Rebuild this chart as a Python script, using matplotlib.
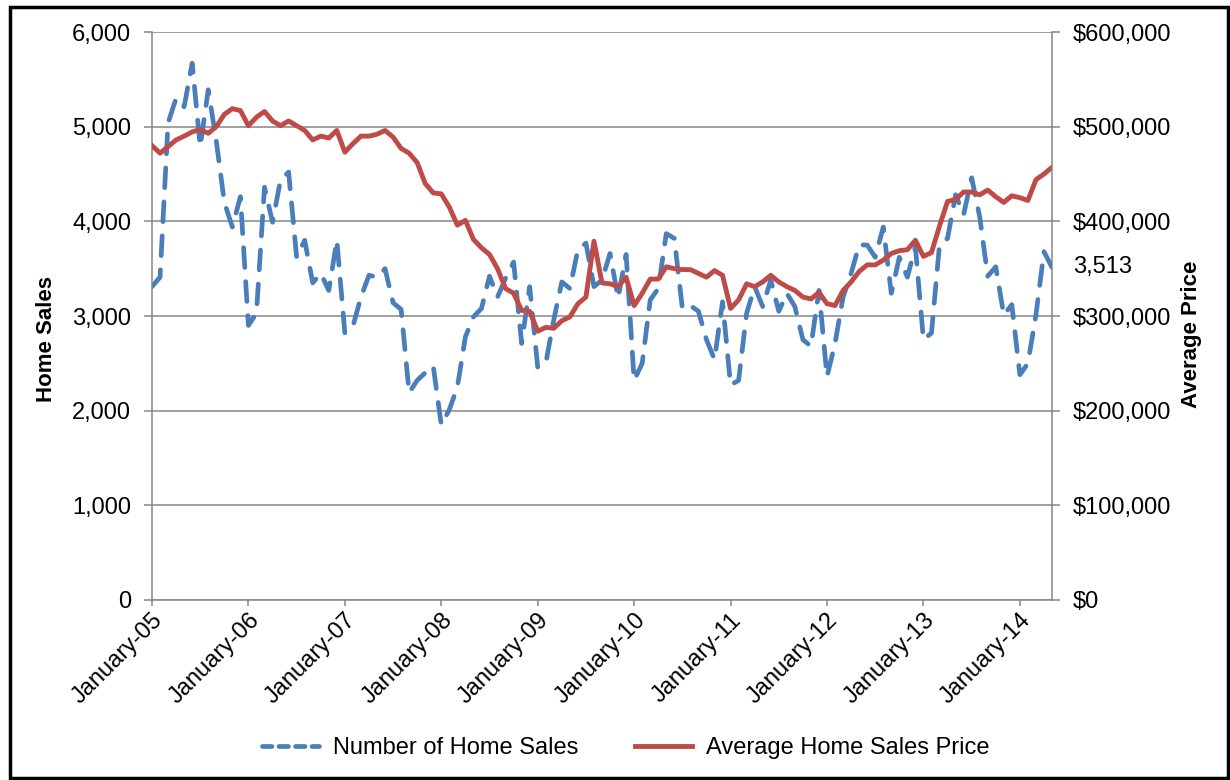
import numpy as np
import matplotlib.pyplot as plt
from matplotlib.lines import Line2D
from matplotlib.patches import Rectangle
from matplotlib.ticker import FuncFormatter

plt.rcParams['font.family'] = ['Liberation Sans', 'DejaVu Sans']

# monthly values, January 2005 .. May 2014
home_sales = [3310, 3410, 5040, 5300, 5210, 5670, 4790, 5390, 4850, 4200, 3940, 4260,
              2900, 3030, 4360, 3990, 4440, 4520, 3620, 3800, 3350, 3450, 3270, 3800,
              2820, 2890, 3200, 3430, 3410, 3500, 3140, 3070, 2190, 2320, 2400, 2470,
              1850, 2010, 2250, 2780, 2990, 3080, 3420, 3200, 3400, 3570, 2710, 3310,
              2460, 2500, 2960, 3360, 3290, 3700, 3770, 3310, 3380, 3660, 3190, 3650,
              2320, 2500, 3170, 3290, 3870, 3820, 3080, 3110, 3050, 2750, 2540, 3150,
              2270, 2320, 3030, 3310, 3100, 3380, 3050, 3240, 3100, 2750, 2680, 3270,
              2360, 2710, 3200, 3450, 3750, 3750, 3620, 3940, 3240, 3620, 3410, 3730,
              2750, 2820, 3750, 3820, 4280, 4070, 4460, 4050, 3420, 3520, 3010, 3120,
              2380, 2500, 3010, 3680, 3513]

avg_price = [480000, 472000, 479000, 486000, 490000, 494500, 497000, 493000, 500000, 513000, 519000, 517000,
             501000, 510000, 516000, 506000, 501000, 506000, 501000, 496000, 486000, 490000, 488000, 496000,
             473000, 482000, 490000, 490000, 492000, 496000, 489000, 477000, 472000, 462000, 440000, 430000,
             429000, 415000, 396000, 401000, 381000, 372000, 365000, 350000, 329000, 324000, 306000, 305000,
             284000, 288000, 287000, 295000, 299000, 313000, 320000, 379000, 335000, 334000, 331000, 341000,
             311000, 324000, 339000, 339000, 352000, 350000, 349000, 349000, 345000, 341000, 348000, 343000,
             308000, 317000, 334000, 331000, 336000, 343000, 336000, 331000, 327000, 320000, 318000, 325000,
             313000, 311000, 327000, 336000, 347000, 354000, 354000, 359000, 366000, 369000, 370000, 380000,
             363000, 367000, 395000, 421000, 423000, 431000, 431000, 428000, 433000, 426000, 420000, 427000,
             425000, 422000, 444000, 450000, 457000]

year_labels = ['January-05', 'January-06', 'January-07', 'January-08', 'January-09',
               'January-10', 'January-11', 'January-12', 'January-13', 'January-14']
last_label = '3,513'

blue = '#4A7EBB'
red = '#BE4B48'
grey = '#868686'
fs = 17

months = np.arange(len(home_sales))

fig = plt.figure(figsize=(12.3, 7.8), dpi=100)
ax = fig.add_axes([152 / 1230, 180 / 780, 900 / 1230, 568 / 780])

ax.plot(months, home_sales, color=blue, lw=3.4, dashes=(4.2, 3.0),
        dash_capstyle='round', dash_joinstyle='round')
ax2 = ax.twinx()
ax2.plot(months, avg_price, color=red, lw=3.5, solid_joinstyle='round')

ax.set_xlim(0, len(home_sales) - 1)
ax.set_ylim(0, 6000)
ax2.set_ylim(0, 600000)

ax.set_yticks(range(0, 6001, 1000))
ax2.set_yticks(range(0, 600001, 100000))
ax.yaxis.set_major_formatter(FuncFormatter(lambda v, p: f'{int(v):,}'))
ax2.yaxis.set_major_formatter(FuncFormatter(lambda v, p: f'${int(v):,}'))

ax.set_xticks(months[::12])
ax.set_xticklabels(year_labels, rotation=45, ha='right', va='top', rotation_mode='anchor')

ax.grid(axis='y', color=grey, lw=1.1)
ax.set_axisbelow(True)

for s in ['top', 'right']:
    ax.spines[s].set_visible(False)
for s in ['top', 'left', 'bottom']:
    ax2.spines[s].set_visible(False)
for a, s in [(ax, 'left'), (ax, 'bottom'), (ax2, 'right')]:
    a.spines[s].set_color(grey)
    a.spines[s].set_linewidth(1.1)

ax.tick_params(axis='y', length=6, width=1.1, color=grey, pad=9, labelsize=fs)
ax.tick_params(axis='x', length=4.5, width=1.1, color=grey, pad=2, labelsize=fs)
ax2.tick_params(axis='y', length=6, width=1.1, color=grey, pad=9, labelsize=fs)

# data label for the last month
ax.annotate(last_label, xy=(months[-1], home_sales[-1]), xytext=(21, 0),
            textcoords='offset pixels', ha='left', va='center', fontsize=fs,
            annotation_clip=False)

fig.text(46 / 1230, 1 - 339 / 780, 'Home Sales', rotation=90, ha='center', va='center',
         fontsize=16, fontweight='bold')
fig.text(1191 / 1230, 1 - 334 / 780, 'Average Price', rotation=90, ha='center', va='center',
         fontsize=16, fontweight='bold')

handles = [Line2D([], [], color=blue, lw=3.4, dashes=(2.0, 1.5), dash_capstyle='round'),
           Line2D([], [], color=red, lw=3.5)]
fig.legend(handles, ['Number of Home Sales', 'Average Home Sales Price'],
           loc='center', bbox_to_anchor=(626 / 1230, 1 - 748 / 780), ncol=2,
           frameon=False, fontsize=fs, handlelength=2.4, handletextpad=0.6,
           columnspacing=2.4)

fig.add_artist(Rectangle((9.5 / 1230, 2 / 780), (1228 - 9.5) / 1230, (773.5 - 2) / 780,
                         transform=fig.transFigure, fill=False, ec='black', lw=2.5))

fig.savefig('out.png', dpi=100)
